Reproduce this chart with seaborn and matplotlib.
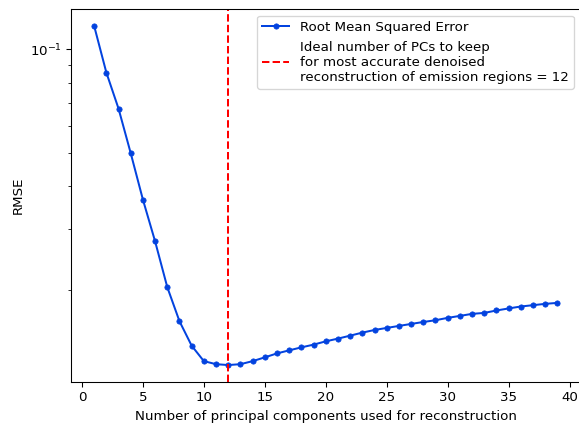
import numpy as np
import pandas as pd
import matplotlib
matplotlib.use("Agg")
import matplotlib.pyplot as plt
import seaborn as sns

# Number of principal components kept in the reconstruction
n_components = list(range(1, 40))

# Reconstruction RMSE for each number of components
rmse = [0.1167, 0.0855, 0.0672, 0.0499, 0.0366, 0.0277, 0.0204, 0.01625,
        0.0138, 0.01245, 0.0122, 0.01213, 0.0122, 0.01245, 0.01277, 0.01311,
        0.01338, 0.01365, 0.0139, 0.01421, 0.01447, 0.01476, 0.01506,
        0.01533, 0.01554, 0.01575, 0.01596, 0.01617, 0.01636, 0.01662,
        0.01684, 0.01707, 0.01718, 0.01746, 0.0177, 0.01793, 0.01809,
        0.01825, 0.01837]

best_k = 12

line_label = "Root Mean Squared Error"
vline_label = ("Ideal number of PCs to keep\n"
               "for most accurate denoised\n"
               "reconstruction of emission regions = 12")

df = pd.DataFrame({"components": n_components, "rmse": rmse})

DPI = 96
W, H = 579, 423
fig = plt.figure(figsize=(W / DPI, H / DPI), dpi=DPI)
ax = fig.add_axes([71 / W, (H - 382) / H, (580.5 - 71) / W, (382 - 9) / H])

blue = "#0343df"
sns.lineplot(data=df, x="components", y="rmse", ax=ax, color=blue,
             marker="o", markersize=4, markeredgecolor=blue,
             markeredgewidth=0.5, linewidth=1.5, label=line_label)
ax.axvline(best_k, color="red", linestyle="--", linewidth=1.5, label=vline_label)

ax.set_yscale("log")
ax.set_xlabel("Number of principal components used for reconstruction")
ax.set_ylabel("RMSE")
ax.legend(loc="upper right")

fig.savefig("out.png", dpi=DPI)
